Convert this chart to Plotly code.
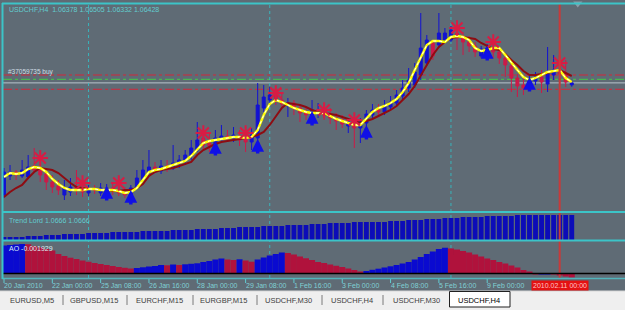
import plotly.graph_objects as go

# ---------------- data ----------------
bars = list(range(95))
opens = [1.03625,1.041,1.042,1.041,1.04075,1.0435,1.0425,1.0415,1.0395,1.0385,
 1.03625,1.037,1.03825,1.03775,1.03675,1.03775,1.03675,1.037,1.038,1.0375,
 1.037,1.0365,1.038,1.040,1.042,1.04325,1.04225,1.0435,1.043,1.044,
 1.04475,1.046,1.0475,1.0505,1.04925,1.04875,1.050,1.051,1.05025,1.051,
 1.05025,1.0495,1.0505,1.058,1.060,1.06125,1.060,1.0585,1.05925,1.058,
 1.057,1.05625,1.057,1.0575,1.0565,1.0555,1.055,1.0535,1.0545,1.053,
 1.05425,1.05625,1.0575,1.057,1.05825,1.05925,1.061,1.063,1.06375,1.06625,
 1.06925,1.07425,1.07375,1.075,1.075,1.07675,1.07575,1.0745,1.0735,1.071,
 1.07175,1.073,1.072,1.0705,1.0685,1.0655,1.06375,1.063,1.06475,1.06575,
 1.064,1.06625,1.0675,1.0665,1.06378]
highs = [1.043,1.04375,1.0425,1.045,1.04625,1.048,1.0475,1.0425,1.04125,1.040,
 1.040,1.0405,1.0425,1.03925,1.03875,1.03875,1.03925,1.039,1.0395,1.040,
 1.03825,1.03875,1.0425,1.045,1.0475,1.0445,1.045,1.045,1.04875,1.04625,
 1.0475,1.050,1.0545,1.053,1.052,1.0525,1.05375,1.0525,1.05325,1.0525,
 1.05325,1.053,1.06425,1.06375,1.06325,1.0625,1.06175,1.0605,1.060,1.05875,
 1.058,1.060,1.05925,1.05875,1.058,1.05675,1.05625,1.0555,1.0555,1.0555,
 1.0575,1.059,1.059,1.060,1.061,1.0625,1.065,1.068,1.06925,1.08175,
 1.07625,1.075,1.08175,1.078,1.0785,1.0775,1.077,1.076,1.0745,1.0735,
 1.074,1.074,1.07325,1.07125,1.0695,1.0665,1.0655,1.06625,1.067,1.0675,
 1.07325,1.07125,1.07375,1.070,1.06505]
lows = [1.0355,1.040,1.040,1.0405,1.04025,1.042,1.0395,1.0375,1.03675,1.03625,
 1.035,1.036,1.03625,1.03575,1.036,1.0365,1.036,1.0355,1.03625,1.036,
 1.0355,1.03575,1.0375,1.0395,1.04125,1.04175,1.0415,1.042,1.0425,1.043,
 1.04375,1.045,1.047,1.0475,1.047,1.0475,1.04925,1.0495,1.0495,1.0485,
 1.047,1.0475,1.0495,1.057,1.05925,1.05875,1.058,1.05575,1.05625,1.0545,
 1.055,1.05375,1.0555,1.055,1.054,1.0525,1.053,1.05175,1.048,1.04925,
 1.0535,1.0555,1.056,1.05625,1.0575,1.0585,1.060,1.062,1.063,1.065,
 1.0685,1.070,1.073,1.07425,1.0745,1.0725,1.07125,1.072,1.07075,1.0705,
 1.0705,1.0705,1.069,1.06575,1.062,1.06075,1.06125,1.06225,1.06375,1.06175,
 1.062,1.065,1.06375,1.06325,1.06332]
closes = [1.042,1.042,1.04125,1.0425,1.04325,1.0425,1.04125,1.0395,1.03825,1.0375,
 1.038,1.03825,1.0375,1.037,1.03775,1.0375,1.038,1.038,1.03725,1.03675,
 1.03625,1.038,1.0405,1.0425,1.04325,1.0425,1.0435,1.043,1.04425,1.045,
 1.04625,1.048,1.050,1.04875,1.0485,1.0505,1.051,1.05025,1.05125,1.050,
 1.0495,1.05125,1.05875,1.06075,1.06125,1.060,1.059,1.05925,1.058,1.05675,
 1.05625,1.0575,1.0575,1.05625,1.0555,1.05475,1.054,1.0545,1.053,1.0545,
 1.0565,1.0575,1.057,1.0585,1.0595,1.06125,1.063,1.065,1.067,1.073,
 1.075,1.071,1.07675,1.07675,1.0775,1.0755,1.0745,1.0735,1.072,1.07275,
 1.073,1.072,1.0705,1.06875,1.0655,1.0635,1.063,1.065,1.06575,1.0645,
 1.0665,1.0675,1.0665,1.0645,1.06428]
ma_fast = [1.04075,1.04175,1.0415,1.04175,1.04275,1.04325,1.043,1.042,1.04025,1.039,
 1.038,1.0375,1.0375,1.0375,1.03775,1.03775,1.0375,1.0375,1.0375,1.03725,
 1.03675,1.037,1.038,1.040,1.042,1.0425,1.04275,1.04325,1.04375,1.04425,
 1.04475,1.046,1.04775,1.04925,1.04975,1.050,1.05025,1.0505,1.05075,1.05075,
 1.0505,1.05075,1.0525,1.05625,1.059,1.060,1.0595,1.05875,1.058,1.0575,
 1.057,1.05675,1.05675,1.05675,1.056,1.05525,1.05475,1.05425,1.05375,1.05375,
 1.0555,1.057,1.058,1.0585,1.05925,1.06025,1.062,1.06425,1.0675,1.0705,
 1.07375,1.07475,1.07475,1.0745,1.07575,1.076,1.07575,1.075,1.073,1.07225,
 1.0725,1.073,1.073,1.07125,1.06925,1.0675,1.06575,1.065,1.0655,1.06625,
 1.067,1.06725,1.0675,1.0655,1.0645]
ma_slow = [1.03575,1.037,1.038,1.03875,1.0405,1.042,1.043,1.04275,1.0425,1.04175,
 1.0405,1.03925,1.03825,1.038,1.03775,1.03775,1.0375,1.0375,1.03725,1.03725,
 1.0375,1.0375,1.038,1.039,1.041,1.042,1.0425,1.04275,1.043,1.0435,
 1.044,1.0445,1.04625,1.0475,1.04825,1.049,1.0495,1.04975,1.050,1.05025,
 1.0505,1.05075,1.05125,1.052,1.05375,1.056,1.058,1.05925,1.059,1.05875,
 1.05825,1.0575,1.057,1.05675,1.0565,1.05625,1.05575,1.05525,1.05475,1.05425,
 1.05475,1.05525,1.056,1.05675,1.0575,1.0585,1.060,1.0615,1.0635,1.06625,
 1.06875,1.07125,1.07325,1.0745,1.0755,1.07575,1.07575,1.0755,1.07525,1.07425,
 1.0735,1.07275,1.0725,1.0715,1.070,1.06875,1.06725,1.06625,1.06625,1.0665,
 1.06675,1.06725,1.0675,1.06675,1.066]
trend_lord = [1.0314,1.0314,1.0314,1.0314,1.0330,1.0330,1.0330,1.0346,1.0346,1.0346,
 1.0362,1.0362,1.0362,1.0362,1.0378,1.0378,1.0378,1.0378,1.0394,1.0394,
 1.0394,1.0394,1.0394,1.0410,1.0410,1.0410,1.0410,1.0410,1.0426,1.0426,
 1.0426,1.0426,1.0442,1.0442,1.0442,1.0442,1.0458,1.0458,1.0458,1.0474,
 1.0474,1.0474,1.0474,1.0490,1.0490,1.0490,1.0490,1.0506,1.0506,1.0506,
 1.0506,1.0522,1.0522,1.0522,1.0538,1.0538,1.0538,1.0538,1.0554,1.0554,
 1.0554,1.0554,1.0554,1.0554,1.0570,1.0570,1.0570,1.0586,1.0586,1.0586,
 1.0602,1.0602,1.0602,1.0618,1.0618,1.0618,1.0634,1.0634,1.0634,1.0634,
 1.0650,1.0650,1.0650,1.0650,1.0650,1.0666,1.0666,1.0666,1.0666,1.0666,
 1.0666,1.0666,1.0666,1.0666,1.0666]
ao = [0.01344,0.01368,0.01392,0.01416,0.01402,0.0132,0.01248,0.01176,0.01104,0.00936,
 0.0084,0.00758,0.00696,0.00624,0.00562,0.00504,0.00456,0.00408,0.0036,0.00312,
 0.00274,0.0024,0.00264,0.00298,0.00336,0.0036,0.00408,0.00394,0.00432,0.00408,
 0.00442,0.00466,0.0049,0.00552,0.006,0.00672,0.0072,0.00672,0.00648,0.00682,
 0.00624,0.00566,0.00672,0.00768,0.00864,0.00936,0.01008,0.00984,0.00912,0.00816,
 0.0073,0.00648,0.00552,0.00504,0.00432,0.0037,0.00312,0.0024,0.00168,0.00096,
 0.0012,0.00178,0.0023,0.00288,0.00346,0.00408,0.0048,0.00552,0.00672,0.00792,
 0.00936,0.01056,0.01176,0.01238,0.012,0.01152,0.0108,0.01008,0.00912,0.00816,
 0.0072,0.00648,0.00552,0.0048,0.00384,0.00288,0.00168,0.00072,-0.00038,-0.00024,
 -0.00014,-0.00034,-0.00096,-0.00144,-0.001929]

sell_bars = [6, 13, 19, 33, 40, 45, 53, 58, 75, 81, 92]
sell_prices = [1.0455, 1.03925, 1.03925, 1.05175, 1.05175, 1.06175, 1.0575, 1.055, 1.078, 1.0745, 1.06925]
buy_bars = [17, 21, 35, 42, 51, 60, 80, 87]
buy_prices = [1.0385, 1.0375, 1.04975, 1.05025, 1.05725, 1.05375, 1.0735, 1.06575]

tick_bars = [0, 8, 16, 24, 32, 40, 48, 56, 64, 72, 80]
tick_labels = ["20 Jan 2010", "22 Jan 00:00", "25 Jan 08:00", "26 Jan 16:00", "28 Jan 00:00",
               "29 Jan 08:00", "1 Feb 16:00", "3 Feb 00:00", "4 Feb 08:00", "5 Feb 16:00", "9 Feb 00:00"]
cursor_bar = 92
cursor_label = "2010.02.11 00:00"
week_separator_bars = [14, 44, 74]
shift_bar = 95

order_label = "#37059735 buy"
order_price = 1.06517
sl_price = 1.06625
tp_price = 1.06268
bid_price = closes[-1]

tab_names = ["EURUSD,M5", "GBPUSD,M15", "EURCHF,M15", "EURGBP,M15",
             "USDCHF,M30", "USDCHF,H4", "USDCHF,M30", "USDCHF,H4"]
active_tab = 7

# ---------------- style / layout helpers ----------------
W, H = 625, 310
L, R, T, B = 3, 0, 3, 32
PW, PH = W - L - R, H - T - B
def py(Y):  # pixel row -> paper y
    return (H - B - Y) / PH
def px(X):  # pixel col -> paper x
    return (X - L) / PW

BG = "#5f6b75"
CYAN = "#3cc4c8"
TXT = "#62cdd0"
BLUE = "#1212d2"
RED = "#cc1a48"
FONT = "Liberation Sans, Arial, sans-serif"

fig = go.Figure()

fig.add_trace(go.Candlestick(
    x=bars, open=opens, high=highs, low=lows, close=closes,
    increasing=dict(line=dict(color=BLUE, width=1), fillcolor=BLUE),
    decreasing=dict(line=dict(color=RED, width=1), fillcolor=RED),
    whiskerwidth=0, xaxis="x", yaxis="y", hoverinfo="skip"))
fig.add_trace(go.Scatter(x=bars, y=ma_slow, mode="lines",
    line=dict(color="#8e0c12", width=2), xaxis="x", yaxis="y", hoverinfo="skip"))
fig.add_trace(go.Scatter(x=bars, y=ma_fast, mode="lines",
    line=dict(color="#ffff00", width=2.4), xaxis="x", yaxis="y", hoverinfo="skip"))
fig.add_trace(go.Scatter(x=bars, y=ma_fast, mode="lines",
    line=dict(color="#ffffff", width=1, dash="dot"), xaxis="x", yaxis="y", hoverinfo="skip"))
fig.add_trace(go.Scatter(x=sell_bars, y=sell_prices, mode="markers",
    marker=dict(symbol="asterisk-open", size=13, color="#d81c44", line=dict(color="#d81c44", width=2)),
    xaxis="x", yaxis="y", hoverinfo="skip"))
fig.add_trace(go.Scatter(x=[shift_bar], y=[1.0841], mode="markers", cliponaxis=False,
    marker=dict(symbol="triangle-down", size=8, color="#8c9ca8"),
    xaxis="x", yaxis="y", hoverinfo="skip"))

# Trend Lord histogram
fig.add_trace(go.Bar(x=bars, y=trend_lord, width=0.8, marker=dict(color="#0c0cb8", line=dict(width=0)),
    xaxis="x", yaxis="y2", hoverinfo="skip"))
# AO histogram (red when falling, blue when rising)
ao_colors = ["#0a0ad0"] + [("#b0123c" if ao[i] < ao[i - 1] else "#0a0ad0") for i in range(1, len(ao))]
fig.add_trace(go.Bar(x=bars, y=ao, width=1.0, marker=dict(color=ao_colors, line=dict(width=0)),
    xaxis="x", yaxis="y3", hoverinfo="skip"))

spacing = 6.04
x0 = (L - 4) / spacing
x1 = x0 + PW / spacing

shapes = []
for pr, col, dash in [(sl_price, "#d2283c", "dashdot"), (order_price, "#46c846", "dashdot"),
                      (tp_price, "#d2283c", "dashdot")]:
    shapes.append(dict(type="line", xref="paper", yref="y", x0=0, x1=1, y0=pr, y1=pr,
                       line=dict(color=col, width=1, dash=dash), layer="below"))
shapes.append(dict(type="line", xref="paper", yref="y", x0=0, x1=1, y0=bid_price, y1=bid_price,
                   line=dict(color="#b8c4cc", width=1), layer="below"))
for b in week_separator_bars:
    shapes.append(dict(type="line", xref="x", yref="paper", x0=b, x1=b, y0=0, y1=1,
                       line=dict(color="#38b4bc", width=1, dash="dot"), layer="below"))
shapes.append(dict(type="line", xref="x", yref="paper", x0=cursor_bar, x1=cursor_bar, y0=0, y1=1,
                   line=dict(color="#c83a3a", width=2)))
shapes.append(dict(type="line", xref="paper", yref="y3", x0=0, x1=1, y0=0, y1=0,
                   line=dict(color="#000000", width=1.5)))
for Y in [3.5, 212, 240.5]:
    shapes.append(dict(type="line", xref="paper", yref="paper", x0=px(2), x1=1, y0=py(Y), y1=py(Y),
                       line=dict(color=CYAN, width=2)))
shapes.append(dict(type="line", xref="paper", yref="paper", x0=px(2), x1=1, y0=py(278.5), y1=py(278.5),
                   line=dict(color="#50b4bc", width=1.5)))
shapes.append(dict(type="line", xref="paper", yref="paper", x0=px(2.5), x1=px(2.5), y0=py(279), y1=py(3),
                   line=dict(color=CYAN, width=2)))
for b in tick_bars:
    shapes.append(dict(type="line", xref="x", yref="paper", x0=b, x1=b, y0=py(279), y1=py(283),
                       line=dict(color=TXT, width=1)))
shapes.append(dict(type="rect", xref="paper", yref="paper", x0=px(0), x1=1, y0=py(291), y1=py(310),
                   fillcolor="#efefef", line=dict(width=0), layer="below"))
shapes.append(dict(type="line", xref="paper", yref="paper", x0=px(0), x1=1, y0=py(291), y1=py(291),
                   line=dict(color="#d8d8d8", width=1)))

tab_centers = [31.5, 93.5, 159, 223.5, 288.5, 351.5, 416, 479]
tab_seps = [63, 127, 193, 257, 322, 383]
for X in tab_seps:
    shapes.append(dict(type="line", xref="paper", yref="paper", x0=px(X), x1=px(X), y0=py(295), y1=py(305),
                       line=dict(color="#7a7a7a", width=1)))
shapes.append(dict(type="rect", xref="paper", yref="paper", x0=px(449.5), x1=px(510), y0=py(291.5), y1=py(307),
                   fillcolor="#ffffff", line=dict(color="#202020", width=1)))

annotations = []
# buy signal arrows (tip at the signal price)
for b, pr in zip(buy_bars, buy_prices):
    annotations.append(dict(xref="x", yref="y", x=b, y=pr, ax=0, ay=16, text="", showarrow=True,
        arrowhead=2, arrowsize=0.75, arrowwidth=3.4, arrowcolor="#1010e6", standoff=0))
annotations.append(dict(xref="paper", yref="paper", x=px(7), y=py(9), xanchor="left", yanchor="middle",
    text=f"USDCHF,H4  {opens[-1]:.5f} {highs[-1]:.5f} {lows[-1]:.5f} {closes[-1]:.5f}",
    showarrow=False, font=dict(family=FONT, size=7, color=TXT)))
annotations.append(dict(xref="paper", yref="y", x=px(6), y=order_price, xanchor="left", yanchor="bottom",
    text=order_label, showarrow=False, yshift=1, font=dict(family=FONT, size=6.5, color="#d0dde4")))
annotations.append(dict(xref="paper", yref="paper", x=px(7), y=py(220), xanchor="left", yanchor="middle",
    text=f"Trend Lord {trend_lord[-1]:.4f} {trend_lord[-1]:.4f}",
    showarrow=False, font=dict(family=FONT, size=7, color=TXT)))
annotations.append(dict(xref="paper", yref="paper", x=px(7), y=py(248), xanchor="left", yanchor="middle",
    text=f"AO {ao[-1]:.6f}", showarrow=False, font=dict(family=FONT, size=7, color="#dceef2")))
for b, lab in zip(tick_bars, tick_labels):
    annotations.append(dict(xref="x", yref="paper", x=b, y=py(285.5), xanchor="left", yanchor="middle",
        xshift=-2, text=lab, showarrow=False, font=dict(family=FONT, size=7, color="#7fd0d4")))
annotations.append(dict(xref="x", yref="paper", x=cursor_bar, y=py(285.5), xanchor="center", yanchor="middle",
    text=cursor_label, showarrow=False, bgcolor="#e41212", borderpad=1,
    font=dict(family=FONT, size=7, color="#ffc4c4")))
for i, (cx, name) in enumerate(zip(tab_centers, tab_names)):
    annotations.append(dict(xref="paper", yref="paper", x=px(cx), y=py(300), xanchor="center", yanchor="middle",
        text=name, showarrow=False,
        font=dict(family=FONT, size=7.5, color="#000000" if i == active_tab else "#404040")))

fig.update_layout(
    width=W, height=H, margin=dict(l=L, r=R, t=T, b=B),
    paper_bgcolor=BG, plot_bgcolor=BG, showlegend=False, hovermode=False,
    barmode="overlay",
    xaxis=dict(range=[x0, x1], visible=False, rangeslider=dict(visible=False), fixedrange=True),
    yaxis=dict(domain=[py(212), 1], range=[1.0320, 1.08425], visible=False, fixedrange=True),
    yaxis2=dict(domain=[py(240.5), py(212)], range=[1.0258, 1.0714], visible=False, fixedrange=True),
    yaxis3=dict(domain=[0, py(240.5)], range=[-0.00216, 0.01584], visible=False, fixedrange=True),
    shapes=shapes, annotations=annotations,
)

fig.write_html("out.html")
